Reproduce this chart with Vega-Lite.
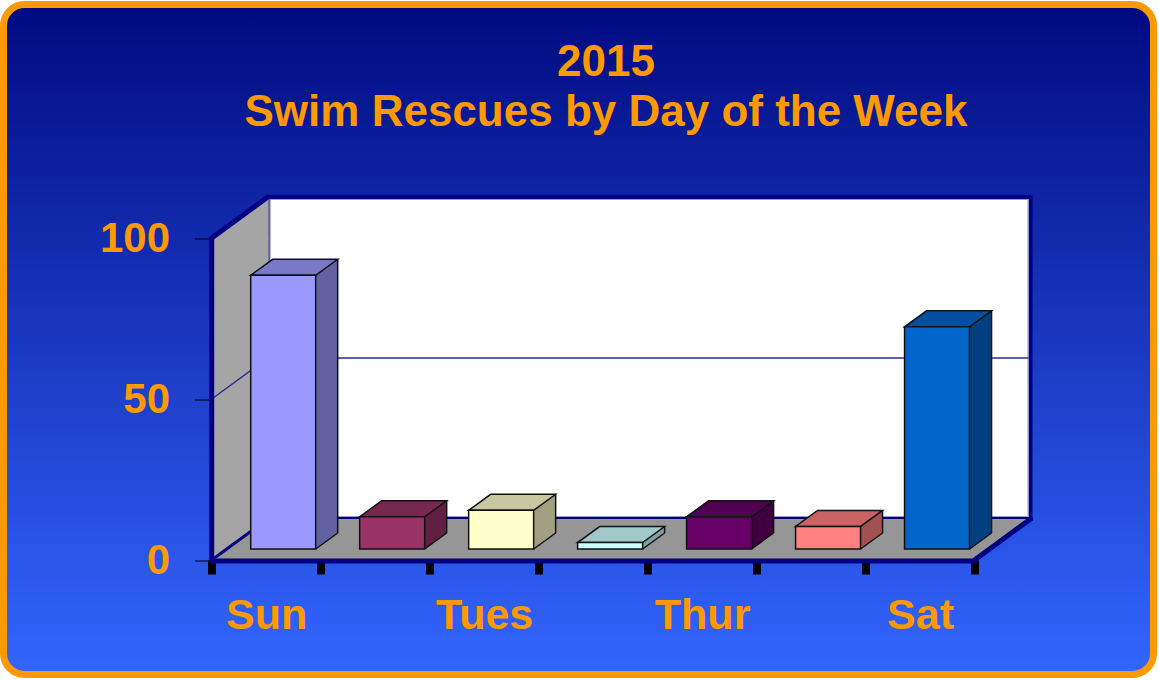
{
  "$schema": "https://vega.github.io/schema/vega-lite/v6.json",
  "width": 1150,
  "height": 670,
  "autosize": "none",
  "padding": {"left": 3.5, "top": 4.5, "right": 5.5, "bottom": 6.5},
  "background": "white",
  "view": {
    "fill": {"gradient": "linear", "x1": 0, "y1": 0, "x2": 0, "y2": 1,
      "stops": [{"offset": 0, "color": "#000a80"}, {"offset": 1, "color": "#3366ff"}]},
    "stroke": "#ff9900",
    "strokeWidth": 7,
    "cornerRadius": 21
  },
  "config": {
    "axisX": {"domain": false, "grid": false, "offset": -114.5, "tickColor": "black", "tickWidth": 8, "tickSize": 14, "tickCap": "butt",
      "labelFont": "Liberation Sans", "labelFontSize": 43, "labelFontWeight": "bold", "labelColor": "#ff9900", "labelPadding": 20, "labelOverlap": false, "labelFlush": false},
    "axisY": {"domain": false, "grid": false, "offset": -205, "tickColor": "black", "tickWidth": 1, "tickSize": 14,
      "labelFont": "Liberation Sans", "labelFontSize": 42, "labelFontWeight": "bold", "labelColor": "#ff9900", "labelPadding": 25, "labelOverlap": false, "labelFlush": false}
  },
  "title": {
    "text": ["2015", "Swim Rescues by Day of the Week"],
    "font": "Liberation Sans",
    "fontSize": 44,
    "fontWeight": "bold",
    "color": "#ff9900",
    "lineHeight": 50,
    "anchor": "middle",
    "frame": "group",
    "offset": -130,
    "dx": 27.5
  },
  "data": {
    "values": [
      {"day": "Sun", "dow": 1, "rescues": 85},
      {"day": "Mon", "dow": 2, "rescues": 10},
      {"day": "Tues", "dow": 3, "rescues": 12},
      {"day": "Wed", "dow": 4, "rescues": 2},
      {"day": "Thur", "dow": 5, "rescues": 10},
      {"day": "Fri", "dow": 6, "rescues": 7},
      {"day": "Sat", "dow": 7, "rescues": 69}
    ]
  },
  "resolve": {"scale": {"fill": "independent"}},
  "layer": [
    {
      "transform": [{"filter": "datum.day === 'Sun'"}],
      "mark": {"type": "rect", "fill": "white", "stroke": "#000080", "strokeWidth": 4, "xOffset": 56, "x2Offset": 56, "yOffset": -41, "y2Offset": -41},
      "encoding": {
        "x": {"datum": 0.5, "type": "quantitative", "scale": {"domain": [-1.36484, 9.09645], "nice": false, "zero": false},
          "axis": {
            "values": [0.5, 1, 1.5, 2, 2.5, 3, 3.5, 4, 4.5, 5, 5.5, 6, 6.5, 7, 7.5],
            "title": null,
            "tickOpacity": {"condition": {"test": "datum.value % 1 === 0", "value": 0}, "value": 1},
            "labelExpr": "datum.value === 1 ? 'Sun' : datum.value === 3 ? 'Tues' : datum.value === 5 ? 'Thur' : datum.value === 7 ? 'Sat' : ''"
          }},
        "x2": {"datum": 7.5},
        "y": {"datum": 0, "type": "quantitative", "scale": {"domain": [-35.559, 172.516], "nice": false, "zero": false},
          "axis": {"values": [0, 50, 100], "title": null}},
        "y2": {"datum": 100}
      }
    },
    {
      "transform": [{"filter": "datum.day === 'Sun'"}],
      "mark": {"type": "rect", "fill": "none", "stroke": "#9a9ad8", "strokeWidth": 1, "xOffset": 58.5, "x2Offset": 53.5, "yOffset": -43.5, "y2Offset": -38.5},
      "encoding": {
        "x": {"datum": 0.5, "type": "quantitative", "axis": {"title": null}},
        "x2": {"datum": 7.5},
        "y": {"datum": 0, "type": "quantitative", "axis": {"title": null}},
        "y2": {"datum": 100}
      }
    },
    {
      "transform": [{"filter": "datum.day === 'Sun'"}],
      "mark": {"type": "rule", "color": "#2a2a9a", "strokeWidth": 1.5, "xOffset": 56, "x2Offset": 54, "yOffset": -41},
      "encoding": {
        "x": {"datum": 0.5, "type": "quantitative", "axis": {"title": null}},
        "x2": {"datum": 7.5},
        "y": {"datum": 50, "type": "quantitative", "axis": {"title": null}}
      }
    },
    {
      "transform": [{"filter": "datum.day === 'Sun'"}],
      "mark": {"type": "rect", "fill": "#a5a5a5", "x2Offset": 57, "yOffset": -41},
      "encoding": {
        "x": {"datum": 0.5, "type": "quantitative", "axis": {"title": null}},
        "x2": {"datum": 0.5},
        "y": {"datum": 0, "type": "quantitative", "axis": {"title": null}},
        "y2": {"datum": 100}
      }
    },
    {
      "transform": [{"filter": "datum.day === 'Sun'"}],
      "mark": {"type": "point", "shape": "M0,0 L56,-41 L57,-41 L57,1 L0,1 Z", "size": 4, "filled": true, "color": "#a5a5a5", "opacity": 1},
      "encoding": {
        "x": {"datum": 0.5, "type": "quantitative", "axis": {"title": null}},
        "y": {"datum": 100, "type": "quantitative", "axis": {"title": null}}
      }
    },
    {
      "transform": [{"filter": "datum.day === 'Sun'"}],
      "mark": {"type": "point", "shape": "M0,0 L0,-42 L56,-42 L56,-41 Z", "size": 4, "filled": true, "color": "#a5a5a5", "opacity": 1},
      "encoding": {
        "x": {"datum": 0.5, "type": "quantitative", "axis": {"title": null}},
        "y": {"datum": 0, "type": "quantitative", "axis": {"title": null}}
      }
    },
    {
      "transform": [{"filter": "datum.day === 'Sun'"}],
      "mark": {"type": "rect", "fill": "#969696", "xOffset": 56, "y2Offset": -41},
      "encoding": {
        "x": {"datum": 0.5, "type": "quantitative", "axis": {"title": null}},
        "x2": {"datum": 7.5},
        "y": {"datum": 0, "type": "quantitative", "axis": {"title": null}},
        "y2": {"datum": 0}
      }
    },
    {
      "transform": [{"filter": "datum.day === 'Sun'"}],
      "mark": {"type": "point", "shape": "M0,0 L56,-41 L57,-41 L57,0 Z", "size": 4, "filled": true, "color": "#969696", "opacity": 1},
      "encoding": {
        "x": {"datum": 0.5, "type": "quantitative", "axis": {"title": null}},
        "y": {"datum": 0, "type": "quantitative", "axis": {"title": null}}
      }
    },
    {
      "transform": [{"filter": "datum.day === 'Sun'"}],
      "mark": {"type": "point", "shape": "M-1,0 L0,0 L56,-41 L-1,-41 Z", "size": 4, "filled": true, "color": "#969696", "opacity": 1},
      "encoding": {
        "x": {"datum": 7.5, "type": "quantitative", "axis": {"title": null}},
        "y": {"datum": 0, "type": "quantitative", "axis": {"title": null}}
      }
    },
    {
      "transform": [{"filter": "datum.day === 'Sun'"}],
      "mark": {"type": "rule", "color": "#2a2a9a", "strokeWidth": 1.5, "x2Offset": 56, "y2Offset": -41},
      "encoding": {
        "x": {"datum": 0.5, "type": "quantitative", "axis": {"title": null}},
        "x2": {"datum": 0.5},
        "y": {"datum": 50, "type": "quantitative", "axis": {"title": null}},
        "y2": {"datum": 50}
      }
    },
    {
      "transform": [{"filter": "datum.day === 'Sun'"}],
      "mark": {"type": "rule", "color": "#000080", "strokeWidth": 3, "x2Offset": 56, "y2Offset": -41},
      "encoding": {
        "x": {"datum": 0.5, "type": "quantitative", "axis": {"title": null}},
        "x2": {"datum": 0.5},
        "y": {"datum": 0, "type": "quantitative", "axis": {"title": null}},
        "y2": {"datum": 0}
      }
    },
    {
      "transform": [{"filter": "datum.day === 'Sun'"}],
      "mark": {"type": "rule", "color": "#000080", "strokeWidth": 5, "strokeCap": "round"},
      "encoding": {
        "x": {"datum": 0.5, "type": "quantitative", "axis": {"title": null}},
        "y": {"datum": 0, "type": "quantitative", "axis": {"title": null}},
        "y2": {"datum": 100}
      }
    },
    {
      "transform": [{"filter": "datum.day === 'Sun'"}],
      "mark": {"type": "rule", "color": "#000080", "strokeWidth": 5, "strokeCap": "round", "x2Offset": 56, "y2Offset": -41},
      "encoding": {
        "x": {"datum": 0.5, "type": "quantitative", "axis": {"title": null}},
        "x2": {"datum": 0.5},
        "y": {"datum": 100, "type": "quantitative", "axis": {"title": null}},
        "y2": {"datum": 100}
      }
    },
    {
      "transform": [{"filter": "datum.day === 'Sun'"}],
      "mark": {"type": "rule", "color": "#000080", "strokeWidth": 5, "strokeCap": "round", "yOffset": 1},
      "encoding": {
        "x": {"datum": 0.5, "type": "quantitative", "axis": {"title": null}},
        "x2": {"datum": 7.5},
        "y": {"datum": 0, "type": "quantitative", "axis": {"title": null}}
      }
    },
    {
      "transform": [{"filter": "datum.day === 'Sun'"}],
      "mark": {"type": "rule", "color": "#000080", "strokeWidth": 5, "strokeCap": "round", "x2Offset": 56, "y2Offset": -41},
      "encoding": {
        "x": {"datum": 7.5, "type": "quantitative", "axis": {"title": null}},
        "x2": {"datum": 7.5},
        "y": {"datum": 0, "type": "quantitative", "axis": {"title": null}},
        "y2": {"datum": 0}
      }
    },
    {
      "mark": {"type": "bar", "orient": "vertical", "width": 65, "xOffset": 39, "yOffset": -27, "y2Offset": -27},
      "encoding": {
        "x": {"field": "dow", "type": "quantitative", "axis": {"title": null}},
        "y": {"field": "rescues", "type": "quantitative", "axis": {"title": null}},
        "y2": {"datum": 0},
        "fill": {"field": "day", "type": "nominal", "legend": null,
          "scale": {"domain": ["Sun", "Mon", "Tues", "Wed", "Thur", "Fri", "Sat"],
            "range": ["#6262a1", "#612041", "#a1a181", "#80a1a1", "#400040", "#a15151", "#004081"]}}
      }
    },
    {
      "mark": {"type": "point", "shape": "M48,-11 L49.5,-11 L71.5,-27 L48,-27 Z", "size": 4, "filled": true, "opacity": 1},
      "encoding": {
        "x": {"field": "dow", "type": "quantitative", "axis": {"title": null}},
        "y": {"datum": 0, "type": "quantitative", "axis": {"title": null}},
        "fill": {"field": "day", "type": "nominal", "legend": null,
          "scale": {"domain": ["Sun", "Mon", "Tues", "Wed", "Thur", "Fri", "Sat"],
            "range": ["#6262a1", "#612041", "#a1a181", "#80a1a1", "#400040", "#a15151", "#004081"]}}
      }
    },
    {
      "mark": {"type": "point", "shape": "M-15.5,-11 L49.5,-11 L71.5,-27 L6.5,-27 Z", "size": 4, "filled": true, "opacity": 1, "stroke": "#111111", "strokeWidth": 1.5, "strokeJoin": "miter"},
      "encoding": {
        "x": {"field": "dow", "type": "quantitative", "axis": {"title": null}},
        "y": {"field": "rescues", "type": "quantitative", "axis": {"title": null}},
        "fill": {"field": "day", "type": "nominal", "legend": null,
          "scale": {"domain": ["Sun", "Mon", "Tues", "Wed", "Thur", "Fri", "Sat"],
            "range": ["#7878c8", "#782850", "#c8c8a0", "#a0c8c8", "#500050", "#c86464", "#0050a0"]}}
      }
    },
    {
      "mark": {"type": "bar", "orient": "vertical", "width": 65, "xOffset": 17, "yOffset": -11, "y2Offset": -11, "stroke": "#111111", "strokeWidth": 1.5},
      "encoding": {
        "x": {"field": "dow", "type": "quantitative", "axis": {"title": null}},
        "y": {"field": "rescues", "type": "quantitative", "axis": {"title": null}},
        "y2": {"datum": 0},
        "fill": {"field": "day", "type": "nominal", "legend": null,
          "scale": {"domain": ["Sun", "Mon", "Tues", "Wed", "Thur", "Fri", "Sat"],
            "range": ["#9999ff", "#993366", "#ffffcc", "#ccffff", "#660066", "#ff8080", "#0066cc"]}}
      }
    },
    {
      "mark": {"type": "rule", "color": "#111111", "strokeWidth": 1.5, "xOffset": 71.5, "yOffset": -27, "y2Offset": -27},
      "encoding": {
        "x": {"field": "dow", "type": "quantitative", "axis": {"title": null}},
        "y": {"field": "rescues", "type": "quantitative", "axis": {"title": null}},
        "y2": {"datum": 0}
      }
    },
    {
      "mark": {"type": "point", "shape": "M49.5,-11 L71.5,-27", "size": 4, "filled": false, "color": "#111111", "strokeWidth": 1.5, "opacity": 1},
      "encoding": {
        "x": {"field": "dow", "type": "quantitative", "axis": {"title": null}},
        "y": {"datum": 0, "type": "quantitative", "axis": {"title": null}}
      }
    }
  ]
}
